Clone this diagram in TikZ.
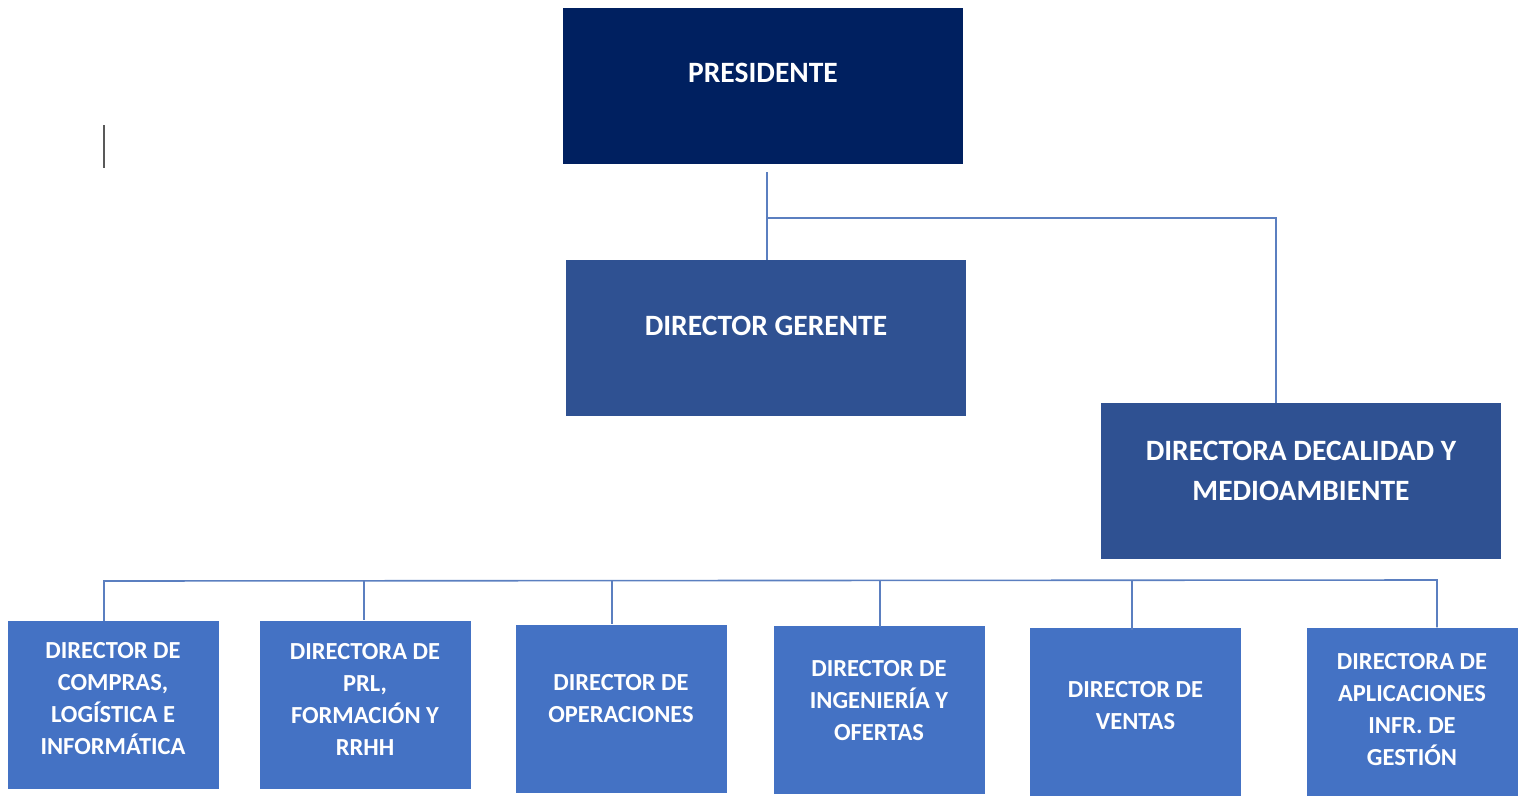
\documentclass[tikz,border=0pt]{standalone}
\usepackage{fontspec}
\setmainfont{Carlito}
\definecolor{navy}{HTML}{002060}
\definecolor{midblue}{HTML}{2F5192}
\definecolor{boxblue}{HTML}{4472C4}
\definecolor{linkblue}{HTML}{5B7FC0}
\begin{document}
\begin{tikzpicture}[x=1pt,y=-1pt,
  topbox/.style={rectangle, minimum width=400pt, minimum height=156pt, inner sep=0pt, draw=none},
  subbox/.style={rectangle, minimum width=211pt, minimum height=168pt, inner sep=0pt, fill=boxblue, draw=none},
  toplbl/.style={text=white, align=center, font=\fontsize{29.5}{40}\selectfont\bfseries},
  sublbl/.style={text=white, align=center, font=\fontsize{24.5}{32}\selectfont\bfseries},
  link/.style={draw=linkblue, line width=1.6pt}]
\useasboundingbox (0,0) rectangle (1521,796);
% top boxes
\node[topbox, fill=navy] (pres) at (763,86) {};
\node[toplbl] (presT) at ([yshift=13pt]pres.center) {PRESIDENTE};
\node[topbox, fill=midblue] (ger) at (766,338) {};
\node[toplbl] (gerT) at ([yshift=12pt]ger.center) {DIRECTOR GERENTE};
\node[topbox, fill=midblue] (cal) at (1301,481) {};
\node[toplbl] (calT) at ([yshift=10pt]cal.center) {DIRECTORA DECALIDAD Y\\MEDIOAMBIENTE};
% bottom boxes
\node[subbox] (b1) at (113,705) {};
\node[sublbl] (t1) at ([yshift=6pt]b1.center) {DIRECTOR DE\\COMPRAS,\\LOGÍSTICA E\\INFORMÁTICA};
\node[subbox] (b2) at (365,705) {};
\node[sublbl] (t2) at ([yshift=6pt]b2.center) {DIRECTORA DE\\PRL,\\FORMACIÓN Y\\RRHH};
\node[subbox] (b3) at (621,708.5) {};
\node[sublbl] (t3) at ([yshift=10pt]b3.center) {DIRECTOR DE\\OPERACIONES};
\node[subbox] (b4) at (879,710) {};
\node[sublbl] (t4) at ([yshift=9pt]b4.center) {DIRECTOR DE\\INGENIERÍA Y\\OFERTAS};
\node[subbox] (b5) at (1135.5,711.5) {};
\node[sublbl] (t5) at ([yshift=6pt]b5.center) {DIRECTOR DE\\VENTAS};
\node[subbox] (b6) at (1412,711.5) {};
\node[sublbl] (t6) at ([yshift=2pt]b6.center) {DIRECTORA DE\\APLICACIONES\\INFR. DE\\GESTIÓN};
% top connectors
\coordinate (pdrop) at (767,172);
\coordinate (pj) at (767,218);
\coordinate (cj) at (1276,218);
\draw[link] (pdrop) -- (pj) -- (767,260);
\draw[link] (pj) -- (cj) -- (cal.north -| cj);
% bottom bus
\coordinate (busL) at (104,581);
\coordinate (busR) at (1437,580);
\draw[link] (b1.north -| busL) -- (busL) -- (busR) -- (b6.north -| busR);
\draw[link] (364,581) -- (364,620);
\draw[link] (612,581) -- (612,624);
\draw[link] (880,580) -- (880,627);
\draw[link] (1132,580) -- (1132,630);
% text cursor
\draw[line width=1.6pt, draw=black!65] (104,125) -- (104,168);
\end{tikzpicture}
\end{document}
